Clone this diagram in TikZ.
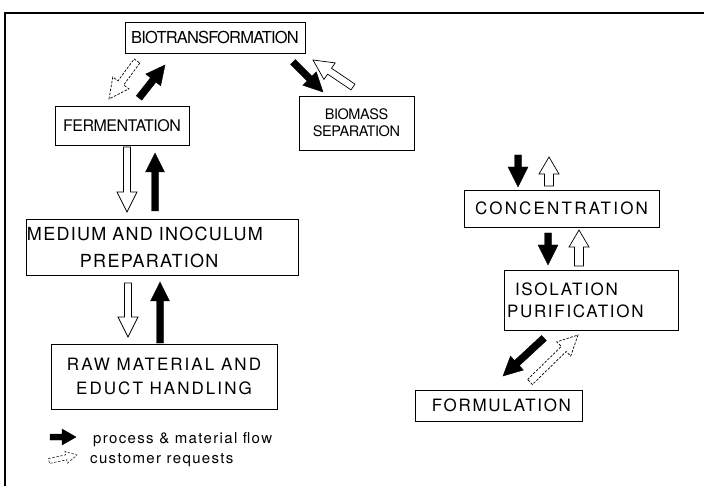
\documentclass[tikz,border=0pt]{standalone}
\usepackage{fontspec}
\setmainfont{TeX Gyre Heros}
\usetikzlibrary{calc}

\newcommand\shafthw{3.5pt}
\newcommand\headhw{9.5pt}
\newcommand\headlen{19pt}

\begin{document}
\begin{tikzpicture}[
    x=1pt, y=-1pt,
    box/.style={draw, line width=0.9pt, inner sep=0pt, align=center},
    boxfont/.style 2 args={font=\fontsize{#1pt}{18pt}\selectfont\addfontfeature{LetterSpace=#2}},
    legendtext/.style={font=\fontsize{15pt}{18pt}\selectfont\addfontfeature{LetterSpace=9}, inner sep=0pt, anchor=base west},
    arrowdims/.style n args={3}{/utils/exec={\def\shafthw{#1}\def\headhw{#2}\def\headlen{#3}}},
    blockarrow/.style={line join=miter, to path={
        ($(\tikztostart)!\shafthw!90:(\tikztotarget)$)
        -- ($(\tikztotarget)!\headlen!(\tikztostart)!\shafthw!90:(\tikztotarget)$)
        -- ($(\tikztotarget)!\headlen!(\tikztostart)!\headhw!90:(\tikztotarget)$)
        -- (\tikztotarget)
        -- ($(\tikztotarget)!\headlen!(\tikztostart)!\headhw!-90:(\tikztotarget)$)
        -- ($(\tikztotarget)!\headlen!(\tikztostart)!\shafthw!-90:(\tikztotarget)$)
        -- ($(\tikztostart)!\shafthw!-90:(\tikztotarget)$)
        -- cycle}},
    flowarrow/.style={blockarrow, draw=black, fill=black, line width=0.4pt},
    requestarrow/.style={blockarrow, draw=black, fill=white, line width=0.7pt,
        arrowdims={3.5pt}{10pt}{20pt}},
    dashedrequest/.style={requestarrow, dash pattern=on 2.5pt off 1.5pt}]
    \useasboundingbox (0,0) rectangle (704,486);
    % frame
    \draw [line width=1.2pt] (5,486) -- (5,13) -- (704,13);
    % process steps
    \node [box, boxfont={16.5}{-5}, minimum width=180pt, minimum height=31pt] (bio) at (215,37.5)
        {BIOTRANSFORMATION};
    \node [box, boxfont={16}{-3}, minimum width=134pt, minimum height=39pt] (ferm) at (122,125.5)
        {FERMENTATION};
    \node [box, boxfont={14.5}{-3}, minimum width=115pt, minimum height=54pt] (biomass) at (356.5,123)
        {BIOMASS\\[-1pt]SEPARATION};
    \node [box, boxfont={18}{7}, align=left, text width=270pt, inner xsep=1pt,
        minimum height=56pt] (medium) at (162,247)
        {MEDIUM AND INOCULUM\\[9pt]\hspace*{53pt}PREPARATION};
    \node [box, boxfont={17}{12}, minimum width=226pt, minimum height=65pt] (raw) at (164,376.5)
        {RAW MATERIAL AND\\[6pt]EDUCT HANDLING};
    \node [box, boxfont={17}{13}, minimum width=195pt, minimum height=37pt] (conc) at (561.5,208.5)
        {CONCENTRATION};
    \node [box, boxfont={17}{10}, align=left, text width=168pt, inner xsep=3pt,
        minimum height=60pt] (isol) at (591,300)
        {\hspace*{8pt}ISOLATION\\[4pt]PURIFICATION};
    \node [box, boxfont={17}{10}, minimum width=167pt, minimum height=31pt] (form) at (498.5,405.5)
        {\hspace*{6pt}FORMULATION};
    % arrow ends
    \coordinate (bioferm1) at (137,61);   \coordinate (bioferm2) at (109,99);
    \coordinate (fermbio1) at (139,98);   \coordinate (fermbio2) at (165,65);
    \coordinate (biosep1) at (293,62);    \coordinate (biosep2) at (323,92);
    \coordinate (sepbio1) at (353,87);    \coordinate (sepbio2) at (313,60);
    \coordinate (fermmed1) at (127,147);  \coordinate (fermmed2) at (127,212);
    \coordinate (medferm1) at (155,211);  \coordinate (medferm2) at (155,153);
    \coordinate (medraw1) at (128,283);   \coordinate (medraw2) at (128,337);
    \coordinate (rawmed1) at (160,343);   \coordinate (rawmed2) at (160,282);
    \coordinate (sepconc1) at (518,155);  \coordinate (sepconc2) at (518,187);
    \coordinate (concsep1) at (549,186);  \coordinate (concsep2) at (549,157);
    \coordinate (concisol1) at (548,233); \coordinate (concisol2) at (548,265);
    \coordinate (isolconc1) at (579,266); \coordinate (isolconc2) at (579,230);
    \coordinate (isolform1) at (544,338); \coordinate (isolform2) at (503,376);
    \coordinate (formisol1) at (530,382); \coordinate (formisol2) at (578,335);
    % process & material flow
    \draw [flowarrow] (fermbio1) to (fermbio2);
    \draw [flowarrow] (biosep1) to (biosep2);
    \draw [flowarrow] (medferm1) to (medferm2);
    \draw [flowarrow] (rawmed1) to (rawmed2);
    \draw [flowarrow, arrowdims={3.5pt}{10pt}{20pt}] (sepconc1) to (sepconc2);
    \draw [flowarrow, arrowdims={3.5pt}{10pt}{20pt}] (concisol1) to (concisol2);
    \draw [flowarrow] (isolform1) to (isolform2);
    % customer requests
    \draw [dashedrequest] (bioferm1) to (bioferm2);
    \draw [requestarrow] (sepbio1) to (sepbio2);
    \draw [requestarrow] (fermmed1) to (fermmed2);
    \draw [requestarrow] (medraw1) to (medraw2);
    \draw [requestarrow, arrowdims={4.5pt}{10pt}{17pt}] (concsep1) to (concsep2);
    \draw [requestarrow, arrowdims={4.5pt}{10pt}{17pt}] (isolconc1) to (isolconc2);
    \draw [dashedrequest] (formisol1) to (formisol2);
    % legend
    \coordinate (keyflow1) at (50,437);   \coordinate (keyflow2) at (76,437);
    \coordinate (keyreq1) at (49,461);    \coordinate (keyreq2) at (77,455);
    \draw [flowarrow, arrowdims={3pt}{8pt}{14pt}] (keyflow1) to (keyflow2);
    \draw [dashedrequest, arrowdims={2.5pt}{6pt}{11pt}, line width=0.5pt] (keyreq1) to (keyreq2);
    \node [legendtext] (keyflowtext) at (93,443) {process \& material flow};
    \node [legendtext] (keyreqtext) at (90,463) {customer requests};
\end{tikzpicture}
\end{document}
